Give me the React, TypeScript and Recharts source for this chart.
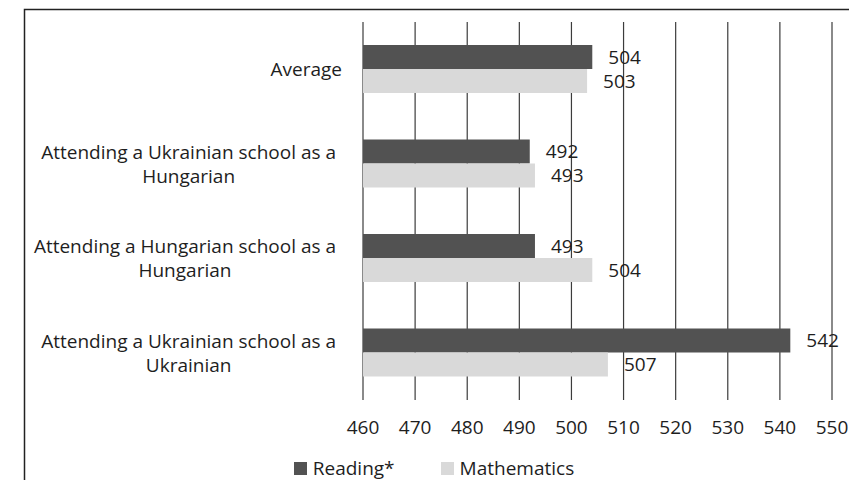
import React from 'react';
import { BarChart, Bar, XAxis, YAxis, CartesianGrid, Legend, LabelList } from 'recharts';

const groups = [
  'Average',
  'Attending a Ukrainian school as a Hungarian',
  'Attending a Hungarian school as a Hungarian',
  'Attending a Ukrainian school as a Ukrainian',
];
const reading = [504, 492, 493, 542];
const mathematics = [503, 493, 504, 507];
const scoreTicks = [460, 470, 480, 490, 500, 510, 520, 530, 540, 550];

const FONT = '"Open Sans", sans-serif';
const FONT_SIZE = 19;
const TEXT = '#1e1e1e';
const DARK = '#525252';
const LIGHT = '#d9d9d9';
const W = 845;
const H = 472;

const data = groups.map((name, i) => ({ name, reading: reading[i], mathematics: mathematics[i] }));

let ctx: CanvasRenderingContext2D | null = null;
const textWidth = (s: string) => {
  if (!ctx) {
    ctx = document.createElement('canvas').getContext('2d');
    if (ctx) ctx.font = `${FONT_SIZE}px "Open Sans"`;
  }
  return ctx ? ctx.measureText(s).width : s.length * FONT_SIZE * 0.5;
};

// greedy word wrap
const wrap = (s: string, max: number) => {
  const lines: string[] = [];
  let cur = '';
  s.split(' ').forEach((w) => {
    const next = cur ? cur + ' ' + w : w;
    if (cur && textWidth(next) > max) {
      lines.push(cur);
      cur = w;
    } else {
      cur = next;
    }
  });
  if (cur) lines.push(cur);
  return lines;
};

const CategoryTick = (props: any) => {
  const { x, y, payload } = props;
  const lines = wrap(payload.value, 330);
  const widest = Math.max(...lines.map(textWidth));
  const right = lines.length > 1 ? x - 6 : x;
  const cx = right - widest / 2;
  const lh = 24;
  const startY = y - ((lines.length - 1) * lh) / 2;
  return (
    <text x={cx} y={startY} textAnchor="middle" fill={TEXT} fontSize={FONT_SIZE} fontFamily={FONT}>
      {lines.map((l, i) => (
        <tspan key={i} x={cx} y={startY + i * lh} dy="0.36em">
          {l}
        </tspan>
      ))}
    </text>
  );
};

const LegendContent = () => (
  <div
    style={{
      display: 'flex',
      justifyContent: 'center',
      height: 24,
      alignItems: 'center',
      paddingLeft: 28,
      fontFamily: FONT,
      fontSize: FONT_SIZE,
      color: TEXT,
    }}
  >
    <span style={{ display: 'flex', alignItems: 'center', marginRight: 46 }}>
      <span style={{ width: 13, height: 13, background: DARK, marginRight: 6 }} />
      Reading*
    </span>
    <span style={{ display: 'flex', alignItems: 'center' }}>
      <span style={{ width: 13, height: 13, background: LIGHT, marginRight: 6 }} />
      Mathematics
    </span>
  </div>
);

export default function App() {
  return (
    <div style={{ width: W, height: H }}>
      <BarChart
        width={W}
        height={H}
        data={data}
        layout="vertical"
        margin={{ top: 14, right: 21, bottom: 0, left: 0 }}
        barGap={0}
        barSize={24}
      >
        <CartesianGrid horizontal={false} stroke="#3c3c3c" strokeWidth={1.2} />
        <XAxis
          type="number"
          domain={[460, 550]}
          ticks={scoreTicks}
          axisLine={false}
          tickLine={false}
          tickMargin={15}
          height={56}
          tick={{ fill: TEXT, fontSize: FONT_SIZE, fontFamily: FONT }}
        />
        <YAxis
          type="category"
          dataKey="name"
          width={355}
          axisLine={false}
          tickLine={false}
          tickMargin={15}
          tick={<CategoryTick />}
        />
        <Legend verticalAlign="bottom" height={24} content={<LegendContent />} />
        <Bar dataKey="reading" name="Reading*" fill={DARK} isAnimationActive={false}>
          <LabelList dataKey="reading" position="right" offset={16} fill={TEXT} fontSize={FONT_SIZE} fontFamily={FONT} />
        </Bar>
        <Bar dataKey="mathematics" name="Mathematics" fill={LIGHT} isAnimationActive={false}>
          <LabelList dataKey="mathematics" position="right" offset={16} fill={TEXT} fontSize={FONT_SIZE} fontFamily={FONT} />
        </Bar>
        {/* frame around the figure, open at the bottom */}
        <path d={`M16.5 ${H + 10} V1.5 H844.5 V${H + 10}`} fill="none" stroke="#222" strokeWidth={1.5} />
      </BarChart>
    </div>
  );
}
